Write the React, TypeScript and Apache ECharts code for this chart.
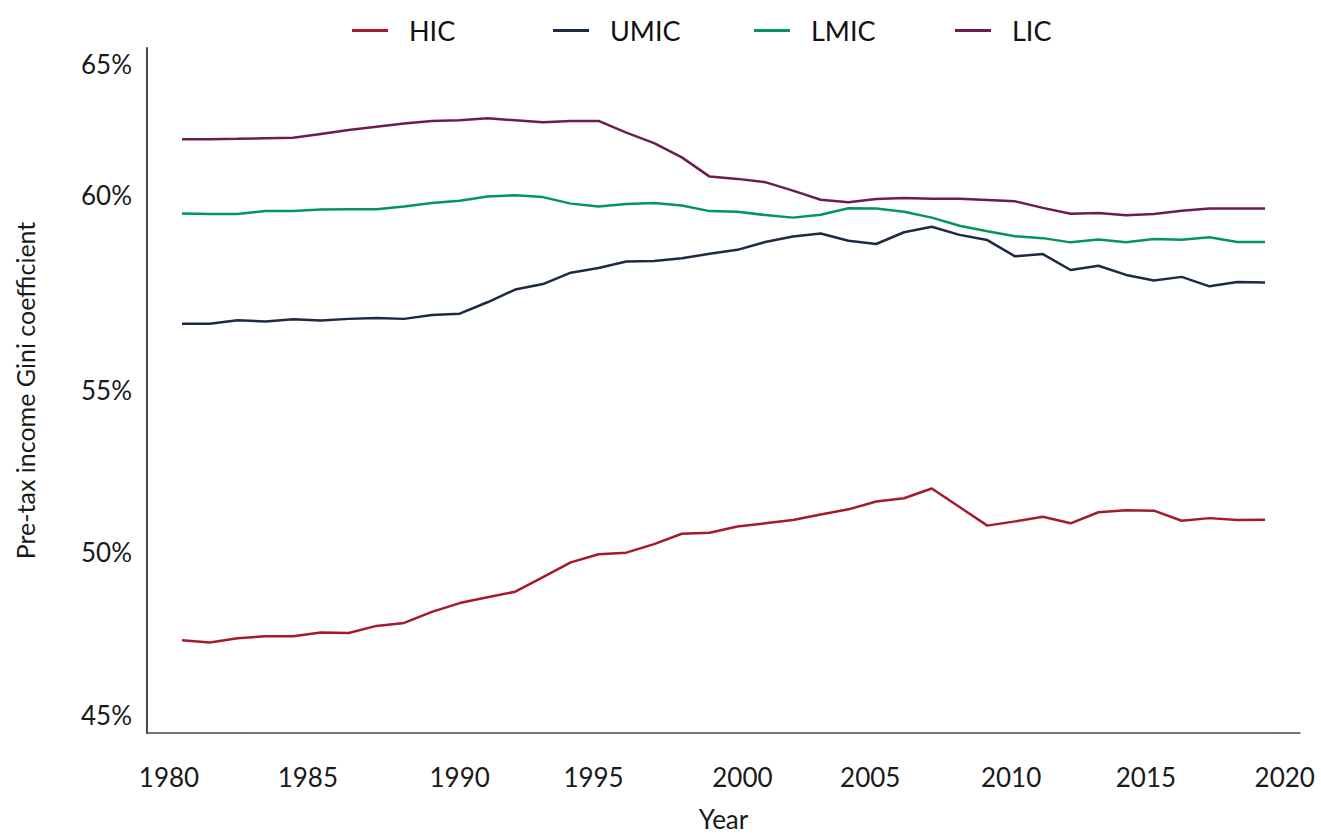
import React, { useEffect, useRef } from "react";
import * as echarts from "echarts";

const years = [
  1980, 1981, 1982, 1983, 1984, 1985, 1986, 1987, 1988, 1989,
  1990, 1991, 1992, 1993, 1994, 1995, 1996, 1997, 1998, 1999,
  2000, 2001, 2002, 2003, 2004, 2005, 2006, 2007, 2008, 2009,
  2010, 2011, 2012, 2013, 2014, 2015, 2016, 2017, 2018, 2019,
];

const hic = [
  47.30, 47.23, 47.36, 47.42, 47.42, 47.54, 47.52, 47.74, 47.83, 48.17,
  48.44, 48.62, 48.79, 49.24, 49.69, 49.94, 49.99, 50.25, 50.57, 50.60,
  50.79, 50.89, 50.99, 51.16, 51.32, 51.56, 51.66, 51.96, 51.39, 50.82,
  50.95, 51.09, 50.89, 51.23, 51.29, 51.28, 50.97, 51.05, 50.99, 51.00,
];

const umic = [
  57.02, 57.02, 57.13, 57.09, 57.16, 57.12, 57.17, 57.20, 57.17, 57.29,
  57.33, 57.68, 58.07, 58.24, 58.59, 58.73, 58.93, 58.95, 59.03, 59.17,
  59.29, 59.53, 59.70, 59.79, 59.57, 59.47, 59.83, 60.00, 59.75, 59.59,
  59.09, 59.16, 58.67, 58.80, 58.52, 58.35, 58.46, 58.17, 58.30, 58.29,
];

const lmic = [
  60.41, 60.39, 60.39, 60.48, 60.48, 60.53, 60.54, 60.54, 60.62, 60.73,
  60.80, 60.93, 60.97, 60.91, 60.71, 60.62, 60.70, 60.73, 60.65, 60.48,
  60.46, 60.36, 60.28, 60.37, 60.57, 60.56, 60.46, 60.28, 60.03, 59.86,
  59.71, 59.65, 59.52, 59.61, 59.52, 59.62, 59.60, 59.68, 59.53, 59.53,
];

const lic = [
  62.69, 62.69, 62.70, 62.72, 62.73, 62.85, 62.97, 63.07, 63.17, 63.25,
  63.27, 63.33, 63.27, 63.21, 63.25, 63.25, 62.89, 62.57, 62.13, 61.54,
  61.47, 61.37, 61.11, 60.83, 60.75, 60.85, 60.88, 60.86, 60.86, 60.82,
  60.78, 60.58, 60.40, 60.42, 60.35, 60.39, 60.49, 60.56, 60.56, 60.56,
];

const seriesNames = ["HIC", "UMIC", "LMIC", "LIC"];
const seriesValues = [hic, umic, lmic, lic];
const seriesColors = ["#a6192e", "#1d2a44", "#00965e", "#6c1d50"];

const xTickLabels = [1980, 1985, 1990, 1995, 2000, 2005, 2010, 2015, 2020];
const yTickLabels = [45, 50, 55, 60, 65];

// horizontal nudges of the year labels (px), as drawn in the reference
const xLabelShift = [-13, -13, 0, -5, 5, -6, -4, -8, -8];
// left edge of each legend entry (px)
const legendLefts = [352, 553, 754, 955];

const FONT = "Lato, 'Open Sans', sans-serif";

export default function App() {
  const ref = useRef<HTMLDivElement>(null);

  useEffect(() => {
    if (!ref.current) return;
    const chart = echarts.init(ref.current, undefined, { renderer: "svg" });

    const xRich: Record<string, any> = {};
    xTickLabels.forEach((v, i) => {
      const d = xLabelShift[i];
      xRich["y" + v] = {
        fontSize: 26,
        fontFamily: FONT,
        color: "#1a1a1a",
        padding: d < 0 ? [0, -2 * d, 0, 0] : [0, 0, 0, 2 * d],
      };
    });

    const option = {
      animation: false,
      backgroundColor: "#ffffff",
      legend: seriesNames.map((name, k) => ({
        data: [name],
        left: legendLefts[k],
        top: 17,
        padding: 0,
        icon: "rect",
        itemWidth: 36,
        itemHeight: 3,
        textStyle: {
          fontSize: 27,
          fontFamily: FONT,
          color: "#111111",
          padding: [0, 0, 0, 16],
        },
      })),
      grid: {
        left: 147,
        right: 21,
        top: 48,
        bottom: 107,
        containLabel: false,
        outerBoundsMode: "none",
      },
      xAxis: {
        type: "value",
        min: 1978.74,
        max: 2020.26,
        name: "Year",
        nameLocation: "middle",
        nameGap: 73,
        nameTextStyle: { fontSize: 26, fontFamily: FONT, color: "#1a1a1a" },
        axisLine: { show: true, lineStyle: { color: "#4a4a4a", width: 1.5 } },
        axisTick: { show: false },
        splitLine: { show: false },
        axisLabel: {
          customValues: xTickLabels,
          margin: 31,
          formatter: (v: number) => `{y${v}|${v}}`,
          rich: xRich,
        },
      },
      yAxis: {
        type: "value",
        min: 44.45,
        max: 65.49,
        name: "Pre-tax income Gini coefficient",
        nameLocation: "middle",
        nameGap: 110,
        nameTextStyle: { fontSize: 25, fontFamily: FONT, color: "#1a1a1a" },
        axisLine: { show: true, lineStyle: { color: "#4a4a4a", width: 2 } },
        axisTick: { show: false },
        splitLine: { show: false },
        axisLabel: {
          customValues: yTickLabels,
          margin: 15,
          formatter: (v: number) => (v === 60 ? `{up|${v}%}` : `{n|${v}%}`),
          rich: {
            n: { fontSize: 26, fontFamily: FONT, color: "#1a1a1a" },
            up: {
              fontSize: 26,
              fontFamily: FONT,
              color: "#1a1a1a",
              padding: [0, 0, 64, 0],
            },
          },
        },
      },
      series: seriesNames.map((name, k) => ({
        name,
        type: "line",
        data: years.map((yr, i) => [yr, seriesValues[k][i]]),
        symbol: "none",
        lineStyle: { color: seriesColors[k], width: 2.5 },
        itemStyle: { color: seriesColors[k] },
      })),
    };

    chart.setOption(option as any);
    return () => chart.dispose();
  }, []);

  return (
    <div
      ref={ref}
      style={{ position: "absolute", left: 0, top: 0, width: 1321, height: 840 }}
    />
  );
}
